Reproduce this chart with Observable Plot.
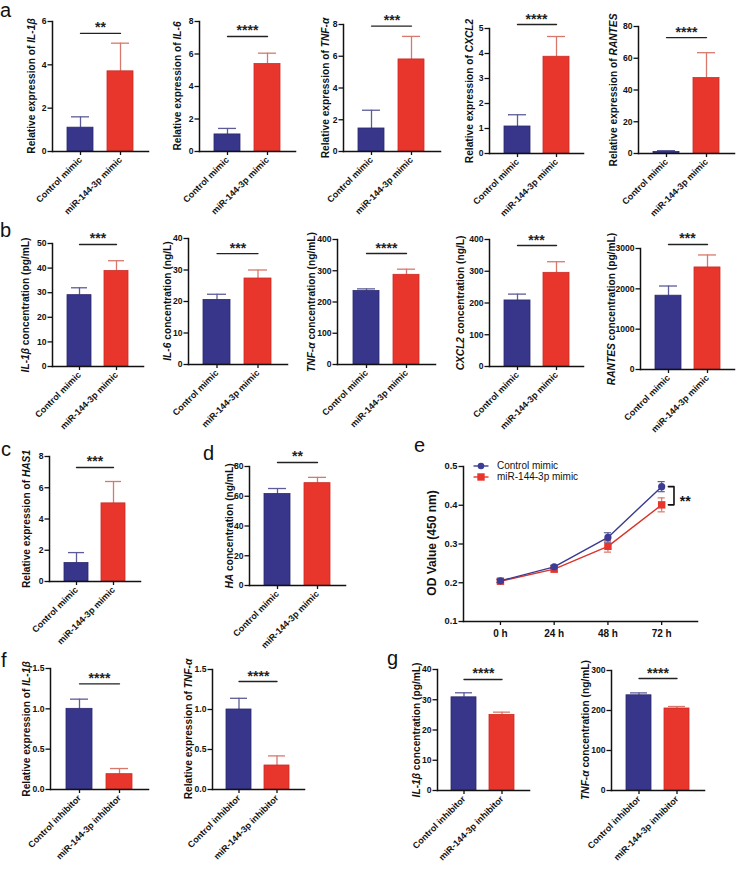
<!DOCTYPE html>
<html><head><meta charset="utf-8">
<script src="https://cdn.jsdelivr.net/npm/d3@7"></script>
<script src="https://cdn.jsdelivr.net/npm/@observablehq/plot@0.6"></script>
<style>
body{margin:0;background:#fff;}
#fig{position:relative;width:744px;height:870px;font-family:"Liberation Sans",Arial,sans-serif;overflow:hidden;background:#fff}
#fig svg{position:absolute;overflow:visible}
.yl{position:absolute;transform:translate(-50%,-50%) rotate(-90deg);white-space:nowrap;font-weight:bold;font-size:10.2px;color:#111;line-height:12px}
.let{position:absolute;font-size:20px;line-height:20px;color:#111}
.leg{position:absolute;font-size:10px;line-height:12px;color:#111;white-space:nowrap}
</style></head><body><div id="fig"></div><script>
// ---------- data ----------
const mimicGroups = ["Control mimic", "miR-144-3p mimic"];
const inhibitorGroups = ["Control inhibitor", "miR-144-3p inhibitor"];

// a: relative expression (mean, mean+SD)
const aIL1bMean = [1.1, 3.7],    aIL1bTop = [1.6, 5.0],   aIL1bTicks = [0, 2, 4, 6];
const aIL6Mean = [1.05, 5.38],   aIL6Top = [1.42, 6.05],  aIL6Ticks = [0, 2, 4, 6, 8];
const aTNFMean = [1.45, 5.8],    aTNFTop = [2.6, 7.25],   aTNFTicks = [0, 2, 4, 6, 8];
const aCXCL2Mean = [1.08, 3.87], aCXCL2Top = [1.55, 4.68], aCXCL2Ticks = [0, 1, 2, 3, 4, 5];
const aRANTESMean = [1.0, 47.5], aRANTESTop = [1.8, 63.5], aRANTESTicks = [0, 20, 40, 60, 80];
// b: concentrations
const bIL1bMean = [29, 38.8],    bIL1bTop = [32, 43],     bIL1bTicks = [0, 10, 20, 30, 40, 50];
const bIL6Mean = [20.5, 27.3],   bIL6Top = [22.3, 30],    bIL6Ticks = [0, 10, 20, 30, 40];
const bTNFMean = [235, 287],     bTNFTop = [242, 305],    bTNFTicks = [0, 100, 200, 300, 400];
const bCXCL2Mean = [208, 295],   bCXCL2Top = [228, 330],  bCXCL2Ticks = [0, 100, 200, 300, 400];
const bRANTESMean = [1830, 2530], bRANTESTop = [2070, 2840], bRANTESTicks = [0, 1000, 2000, 3000];
// c, d
const cHAS1Mean = [1.18, 5.0],   cHAS1Top = [1.85, 6.4],  cHAS1Ticks = [0, 2, 4, 6, 8];
const dHAMean = [61.5, 68.8],    dHATop = [65.2, 72.7],   dHATicks = [0, 20, 40, 60, 80];
// e: CCK-8 OD values
const eHours = [0, 24, 48, 72];
const eHourLabels = ["0 h", "24 h", "48 h", "72 h"];
const eCtrlMean = [0.205, 0.241, 0.317, 0.448];
const eCtrlSD = [0.004, 0.004, 0.012, 0.013];
const eMiRMean = [0.204, 0.235, 0.294, 0.401];
const eMiRSD = [0.004, 0.004, 0.015, 0.018];
const eTicks = [0.1, 0.2, 0.3, 0.4, 0.5];
const eSeries = ["Control mimic", "miR-144-3p mimic"];
// f, g: inhibitor
const fIL1bMean = [1.0, 0.19],   fIL1bTop = [1.12, 0.26], fTicks = [0, 0.5, 1.0, 1.5];
const fTNFMean = [1.0, 0.3],     fTNFTop = [1.14, 0.42];
const gIL1bMean = [30.8, 25.0],  gIL1bTop = [32.3, 25.9], gIL1bTicks = [0, 10, 20, 30, 40];
const gTNFMean = [238, 205],     gTNFTop = [244, 210],    gTNFTicks = [0, 100, 200, 300];

// ---------- styles ----------
const BLUE = "#38368a", BLUE_EDGE = "#2a286e", BLUE_ERR = "#5d5c98";
const RED = "#e8362c", RED_EDGE = "#cc2c24", RED_ERR = "#d8786c";
const FONT = "'Liberation Sans', Arial, sans-serif";
const fig = document.getElementById("fig");

function addLabel(parts, cx, cy, size) {
  const d = document.createElement("div");
  d.className = "yl";
  d.style.left = cx + "px"; d.style.top = cy + "px";
  if (size) d.style.fontSize = size + "px";
  parts.forEach(([t, it]) => { const s = document.createElement(it ? "i" : "span"); s.textContent = t; d.appendChild(s); });
  fig.appendChild(d);
}
function addLetter(t, x, baseline) {
  const d = document.createElement("div");
  d.className = "let"; d.textContent = t;
  d.style.left = x + "px"; d.style.top = Math.max(0, baseline - 17) + "px";
  fig.appendChild(d);
}

const panels = [
  {groups: mimicGroups, mean: aIL1bMean, top: aIL1bTop, ticks: aIL1bTicks, sig: "**", sigY: 5.45, label: [["Relative expression of ", 0], ["IL-1β", 1]], L: {ax: 52, t: 21, b: 151, r: 148, lx: 32}},
  {groups: mimicGroups, mean: aIL6Mean, top: aIL6Top, ticks: aIL6Ticks, sig: "****", sigY: 7.08, label: [["Relative expression of ", 0], ["IL-6", 1]], L: {ax: 199, t: 21, b: 151, r: 295, lx: 178}},
  {groups: mimicGroups, mean: aTNFMean, top: aTNFTop, ticks: aTNFTicks, sig: "***", sigY: 7.9, label: [["Relative expression of ", 0], ["TNF-α", 1]], L: {ax: 343, t: 24, b: 151, r: 440, lx: 326}},
  {groups: mimicGroups, mean: aCXCL2Mean, top: aCXCL2Top, ticks: aCXCL2Ticks, sig: "****", sigY: 5.16, label: [["Relative expression of ", 0], ["CXCL2", 1]], L: {ax: 489, t: 28, b: 153, r: 583, lx: 470}},
  {groups: mimicGroups, mean: aRANTESMean, top: aRANTESTop, ticks: aRANTESTicks, sig: "****", sigY: 73, label: [["Relative expression of ", 0], ["RANTES", 1]], L: {ax: 638, t: 26, b: 153, r: 734, lx: 614}},
  {groups: mimicGroups, mean: bIL1bMean, top: bIL1bTop, ticks: bIL1bTicks, sig: "***", sigY: 49.6, label: [["IL-1β", 1], [" concentration (pg/mL)", 0]], L: {ax: 52, t: 243, b: 366, r: 143, lx: 26}},
  {groups: mimicGroups, mean: bIL6Mean, top: bIL6Top, ticks: bIL6Ticks, sig: "***", sigY: 35.2, label: [["IL-6", 1], [" concentration (ng/L)", 0]], L: {ax: 188, t: 238, b: 364, r: 287, lx: 168}},
  {groups: mimicGroups, mean: bTNFMean, top: bTNFTop, ticks: bTNFTicks, sig: "****", sigY: 355, label: [["TNF-α", 1], [" concentration (ng/mL)", 0]], L: {ax: 337, t: 239, b: 364, r: 435, lx: 312}},
  {groups: mimicGroups, mean: bCXCL2Mean, top: bCXCL2Top, ticks: bCXCL2Ticks, sig: "***", sigY: 381, label: [["CXCL2", 1], [" concentration (ng/L)", 0]], L: {ax: 489, t: 239, b: 366, r: 583, lx: 461}},
  {groups: mimicGroups, mean: bRANTESMean, top: bRANTESTop, ticks: bRANTESTicks, sig: "***", sigY: 3100, label: [["RANTES", 1], [" concentration (pg/mL)", 0]], L: {ax: 640, t: 248, b: 369, r: 734, lx: 612}},
  {groups: mimicGroups, mean: cHAS1Mean, top: cHAS1Top, ticks: cHAS1Ticks, sig: "***", sigY: 7.3, label: [["Relative expression of ", 0], ["HAS1", 1]], L: {ax: 49, t: 456, b: 581, r: 140, lx: 27}},
  {groups: mimicGroups, mean: dHAMean, top: dHATop, ticks: dHATicks, sig: "**", sigY: 82.7, label: [["HA", 1], [" concentration (ng/mL)", 0]], L: {ax: 249, t: 466, b: 585, r: 345, lx: 230}},
  {groups: inhibitorGroups, mean: fIL1bMean, top: fIL1bTop, ticks: fTicks, fmt: d3.format(".1f"), sig: "****", sigY: 1.31, label: [["Relative expression of ", 0], ["IL-1β", 1]], L: {ax: 50, t: 668, b: 789, r: 148, lx: 27}},
  {groups: inhibitorGroups, mean: fTNFMean, top: fTNFTop, ticks: fTicks, fmt: d3.format(".1f"), sig: "****", sigY: 1.35, label: [["Relative expression of ", 0], ["TNF-α", 1]], L: {ax: 212, t: 669, b: 789, r: 304, lx: 189}},
  {groups: inhibitorGroups, mean: gIL1bMean, top: gIL1bTop, ticks: gIL1bTicks, sig: "****", sigY: 36.7, label: [["IL-1β", 1], [" concentration (pg/mL)", 0]], L: {ax: 437, t: 669, b: 790, r: 529, lx: 417}},
  {groups: inhibitorGroups, mean: gTNFMean, top: gTNFTop, ticks: gTNFTicks, sig: "****", sigY: 280, label: [["TNF-α", 1], [" concentration (ng/mL)", 0]], L: {ax: 611, t: 670, b: 790, r: 704, lx: 586}}
];

function barPanel(p) {
  const mL = 40, mR = 8, mT = 24, mB = 90;
  const L = p.L;
  const W = mL + (L.r - L.ax) + mR;
  const H = mT + (L.b - L.t) + mB;
  const rows = p.groups.map((g, i) => ({g, m: p.mean[i], e: p.top[i], i}));
  const chart = Plot.plot({
    width: W, height: H, marginLeft: mL, marginRight: mR, marginTop: mT, marginBottom: mB,
    style: {fontFamily: FONT, fontSize: "8.6px", fontWeight: "bold", color: "#111", background: "transparent", overflow: "visible"},
    x: {domain: p.groups, type: "band", paddingInner: 0.34, paddingOuter: 0.37, axis: null},
    y: {domain: [0, d3.max(p.ticks)], axis: null},
    color: {type: "identity"},
    marks: [
      Plot.ruleX(rows, {x: "g", y1: "m", y2: "e", stroke: d => d.i ? RED_ERR : BLUE_ERR, strokeWidth: 1.3}),
      Plot.tickY(rows, {x: "g", y: "e", stroke: d => d.i ? RED_ERR : BLUE_ERR, strokeWidth: 1.3, insetLeft: 4, insetRight: 4}),
      Plot.barY(rows, {x: "g", y: "m", fill: d => d.i ? RED : BLUE, stroke: d => d.i ? RED_EDGE : BLUE_EDGE, strokeWidth: 0.8}),
      Plot.axisY({ticks: p.ticks, tickSize: 4.5, tickPadding: 1.5, tickFormat: p.fmt || (d => String(d)), strokeWidth: 1.3, label: null}),
      Plot.axisX({tickSize: 4, tickPadding: 3, tickRotate: -45, strokeWidth: 1.3, fontSize: 9, label: null}),
      Plot.frame({anchor: "left", strokeWidth: 1.5}),
      Plot.frame({anchor: "bottom", strokeWidth: 1.5}),
      Plot.line([0, 1], {x: i => p.groups[i], y: () => p.sigY, strokeWidth: 1.4, stroke: "#222"}),
      Plot.text([p.sig], {frameAnchor: "middle", y: () => p.sigY, text: d => d, lineAnchor: "bottom", dy: -1, fontSize: 14, fontWeight: "bold", fill: "#222"})
    ]
  });
  chart.style.left = (L.ax - mL) + "px";
  chart.style.top = (L.t - mT) + "px";
  fig.appendChild(chart);
  addLabel(p.label, L.lx, (L.t + L.b) / 2);
}
panels.forEach(barPanel);

// ---------- e: line chart ----------
(function () {
  const L = {ax: 463, t: 466, b: 621, r: 697};
  const mL = 40, mR = 10, mT = 20, mB = 30;
  const rows = [];
  eHours.forEach((h, i) => {
    rows.push({s: eSeries[0], h, m: eCtrlMean[i], sd: eCtrlSD[i]});
    rows.push({s: eSeries[1], h, m: eMiRMean[i], sd: eMiRSD[i]});
  });
  const ctrl = rows.filter(d => d.s === eSeries[0]);
  const mir = rows.filter(d => d.s === eSeries[1]);
  const last = eHours.length - 1;
  const bracket = [
    {x: 75, y: eCtrlMean[last]}, {x: 77.5, y: eCtrlMean[last]},
    {x: 77.5, y: eMiRMean[last]}, {x: 75, y: eMiRMean[last]}
  ];
  const chart = Plot.plot({
    width: mL + (L.r - L.ax) + mR, height: mT + (L.b - L.t) + mB,
    marginLeft: mL, marginRight: mR, marginTop: mT, marginBottom: mB,
    style: {fontFamily: FONT, fontSize: "9.3px", fontWeight: "bold", color: "#111", background: "transparent", overflow: "visible"},
    x: {domain: [-16.5, 88], axis: null},
    y: {domain: [0.1, 0.5], axis: null},
    marks: [
      Plot.axisY({ticks: eTicks, tickSize: 4.5, tickPadding: 1.5, tickFormat: d3.format(".1f"), strokeWidth: 1.3, label: null}),
      Plot.axisX({ticks: eHours, tickSize: 4, tickPadding: 4, tickFormat: d => eHourLabels[eHours.indexOf(d)], strokeWidth: 1.3, fontSize: 10, label: null}),
      Plot.frame({anchor: "left", strokeWidth: 1.5}),
      Plot.frame({anchor: "bottom", strokeWidth: 1.5}),
      // miR series
      Plot.ruleX(mir, {x: "h", y1: d => d.m - d.sd, y2: d => d.m + d.sd, stroke: RED_ERR, strokeWidth: 1.2}),
      Plot.ruleY(mir, {y: d => d.m + d.sd, x1: d => d.h - 1.6, x2: d => d.h + 1.6, stroke: RED_ERR, strokeWidth: 1.2}),
      Plot.ruleY(mir, {y: d => d.m - d.sd, x1: d => d.h - 1.6, x2: d => d.h + 1.6, stroke: RED_ERR, strokeWidth: 1.2}),
      Plot.line(mir, {x: "h", y: "m", stroke: "#d9342b", strokeWidth: 1.4}),
      Plot.dot(mir, {x: "h", y: "m", symbol: "square", r: 4.2, fill: RED, stroke: "none"}),
      // control series
      Plot.ruleX(ctrl, {x: "h", y1: d => d.m - d.sd, y2: d => d.m + d.sd, stroke: BLUE_ERR, strokeWidth: 1.2}),
      Plot.ruleY(ctrl, {y: d => d.m + d.sd, x1: d => d.h - 1.6, x2: d => d.h + 1.6, stroke: BLUE_ERR, strokeWidth: 1.2}),
      Plot.ruleY(ctrl, {y: d => d.m - d.sd, x1: d => d.h - 1.6, x2: d => d.h + 1.6, stroke: BLUE_ERR, strokeWidth: 1.2}),
      Plot.line(ctrl, {x: "h", y: "m", stroke: "#3a3990", strokeWidth: 1.4}),
      Plot.dot(ctrl, {x: "h", y: "m", r: 3.6, fill: "#3d3c95", stroke: "none"}),
      // significance bracket
      Plot.line(bracket, {x: "x", y: "y", stroke: "#111", strokeWidth: 1.6}),
      Plot.text(["**"], {x: () => 82.5, y: () => (eCtrlMean[last] + eMiRMean[last]) / 2, text: d => d, lineAnchor: "bottom", dy: 10, fontSize: 14, fontWeight: "bold", fill: "#111"})
    ]
  });
  chart.style.left = (L.ax - mL) + "px";
  chart.style.top = (L.t - mT) + "px";
  fig.appendChild(chart);
  addLabel([["OD Value (450 nm)", 0]], 432, 543, 12);

  // legend
  const legColors = [["#3d3c95", "circle"], [RED, "square"]];
  eSeries.forEach((name, i) => {
    const y = 466 + i * 11;
    const d = document.createElement("div");
    d.className = "leg";
    d.style.left = "473px"; d.style.top = (y - 6) + "px";
    const c = legColors[i][0];
    const sym = legColors[i][1] === "circle"
      ? `<circle cx="8" cy="6" r="3.3" fill="${c}"/>`
      : `<rect x="4.3" y="2.3" width="7.4" height="7.4" fill="${c}"/>`;
    d.innerHTML = `<svg width="17" height="12" style="position:static;vertical-align:top;overflow:visible"><line x1="0.5" x2="15.5" y1="6" y2="6" stroke="${c}" stroke-width="1.4"/>${sym}</svg><span style="margin-left:7px"></span>`;
    d.querySelector("span").textContent = name;
    fig.appendChild(d);
  });
})();

// panel letters
[["a", 0, 17], ["b", 0, 237], ["c", 1, 456], ["d", 203, 460], ["e", 414, 452], ["f", 1, 667], ["g", 387, 665]].forEach(([t, x, y]) => addLetter(t, x, y));
</script></body></html>
